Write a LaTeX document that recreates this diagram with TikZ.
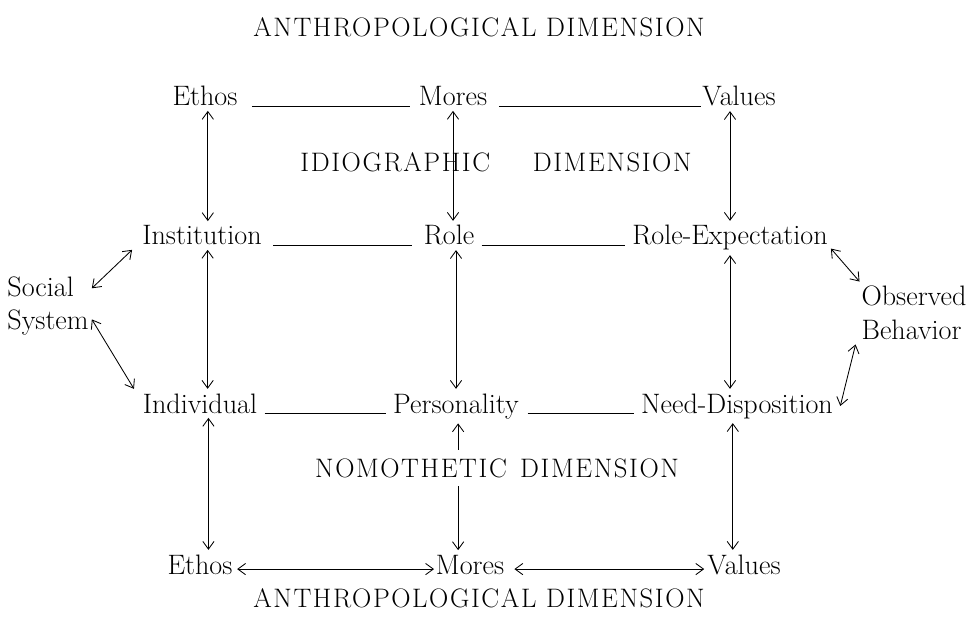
\documentclass[tikz,border=0pt]{standalone}
\usepackage{fontspec}
\usepackage{tikz}
\usetikzlibrary{arrows.meta}
\newfontfamily\dimfont[LetterSpace=6]{Latin Modern Roman}

\begin{document}
\begin{tikzpicture}[x=0.025cm, y=-0.025cm, line width=0.6pt,
    >={Straight Barb[length=5.5pt,width=8pt]},
    every node/.style={font=\fontsize{20}{24}\selectfont, inner xsep=2pt, inner ysep=3pt, anchor=base},
    dimlabel/.style={font=\dimfont\fontsize{19}{22}\selectfont}]
        \useasboundingbox (0,0) rectangle (977,628);
        % dimension titles
        \node[dimlabel] (anthtop) at (479,37) {ANTHROPOLOGICAL DIMENSION};
        \node[dimlabel] (anthbot) at (479,607) {ANTHROPOLOGICAL DIMENSION};
        % top row
        \node (ethostop) at (205,106) {Ethos};
        \node (morestop) at (453,106) {Mores};
        \node (valuestop) at (739,106) {Values};
        % role row
        \node (inst) at (202,245) {Institution};
        \node (role) at (449,245) {Role};
        \node (roleexp) at (730,245) {Role-Expectation};
        % personality row
        \node (indiv) at (200,413) {Individual};
        \node (pers) at (456,413) {Personality};
        \node (needdisp) at (737,413) {Need-Disposition};
        % bottom row
        \node (ethosbot) at (200,574) {Ethos};
        \node (moresbot) at (470,574) {Mores};
        \node (valuesbot) at (744,574) {Values};
        % side nodes
        \node[align=left, anchor=center] (social) at (48,306) {Social\\System};
        \node[align=left, anchor=center] (observed) at (914,313) {Observed\\Behavior};
        % horizontal lines
        \draw ([xshift=8pt]ethostop.base east) -- ([xshift=-4pt]morestop.base west);
        \draw ([xshift=6pt]morestop.base east) -- ([xshift=1pt]valuestop.base west);
        \draw ([xshift=6pt]inst.base east) -- ([xshift=-6pt]role.base west);
        \draw ([xshift=3pt]role.base east) -- ([xshift=-3pt]roleexp.base west);
        \draw ([xshift=3pt]indiv.base east) -- ([xshift=-3pt]pers.base west);
        \draw ([xshift=4pt]pers.base east) -- ([xshift=-3pt]needdisp.base west);
        \draw[<->] ([xshift=1pt,yshift=3.5pt]ethosbot.base east) -- ([xshift=1pt,yshift=3.5pt]moresbot.base west);
        \draw[<->] ([xshift=5pt,yshift=3.5pt]moresbot.base east) -- ([xshift=0pt,yshift=3.5pt]valuesbot.base west);
        % vertical arrows
        \draw[<->] ([xshift=2pt]ethostop.south) -- ([xshift=2pt]ethostop.south |- inst.north);
        \draw[<->] (morestop.south) -- (morestop.south |- role.north);
        \draw[<->] (roleexp.north |- valuestop.south) -- (roleexp.north);
        \draw[<->] ([xshift=4pt]inst.south) -- ([xshift=4pt]inst.south |- indiv.north);
        \draw[<->] (role.south -| pers.north) -- (pers.north);
        \draw[<->] (roleexp.south) -- (roleexp.south |- needdisp.north);
        \draw[<->] ([xshift=6pt]indiv.south) -- ([xshift=6pt]indiv.south |- ethosbot.north);
        \draw[<->] ([xshift=1.5pt]pers.south) -- ([xshift=1.5pt]pers.south |- moresbot.north);
        \draw[<->] ([xshift=-3pt]needdisp.south) -- ([xshift=-3pt]needdisp.south |- valuesbot.north);
        % side arrows
        \draw[<->] (social.22) -- ([xshift=-5pt]inst.south west);
        \draw[<->] (social.-17) -- ([xshift=-4pt]indiv.north west);
        \draw[<->] (roleexp.-6) -- (observed.150);
        \draw[<->] ([xshift=-2pt]observed.south west) -- ([xshift=3pt]needdisp.east);
        % inner dimension labels
        \node[dimlabel] (idio) at (496,172) {IDIOGRAPHIC\hspace{1.6em}DIMENSION};
        \node[dimlabel, fill=white, inner ysep=6pt] (nomo) at (497,477) {NOMOTHETIC\enspace DIMENSION};
      \end{tikzpicture}
\end{document}
